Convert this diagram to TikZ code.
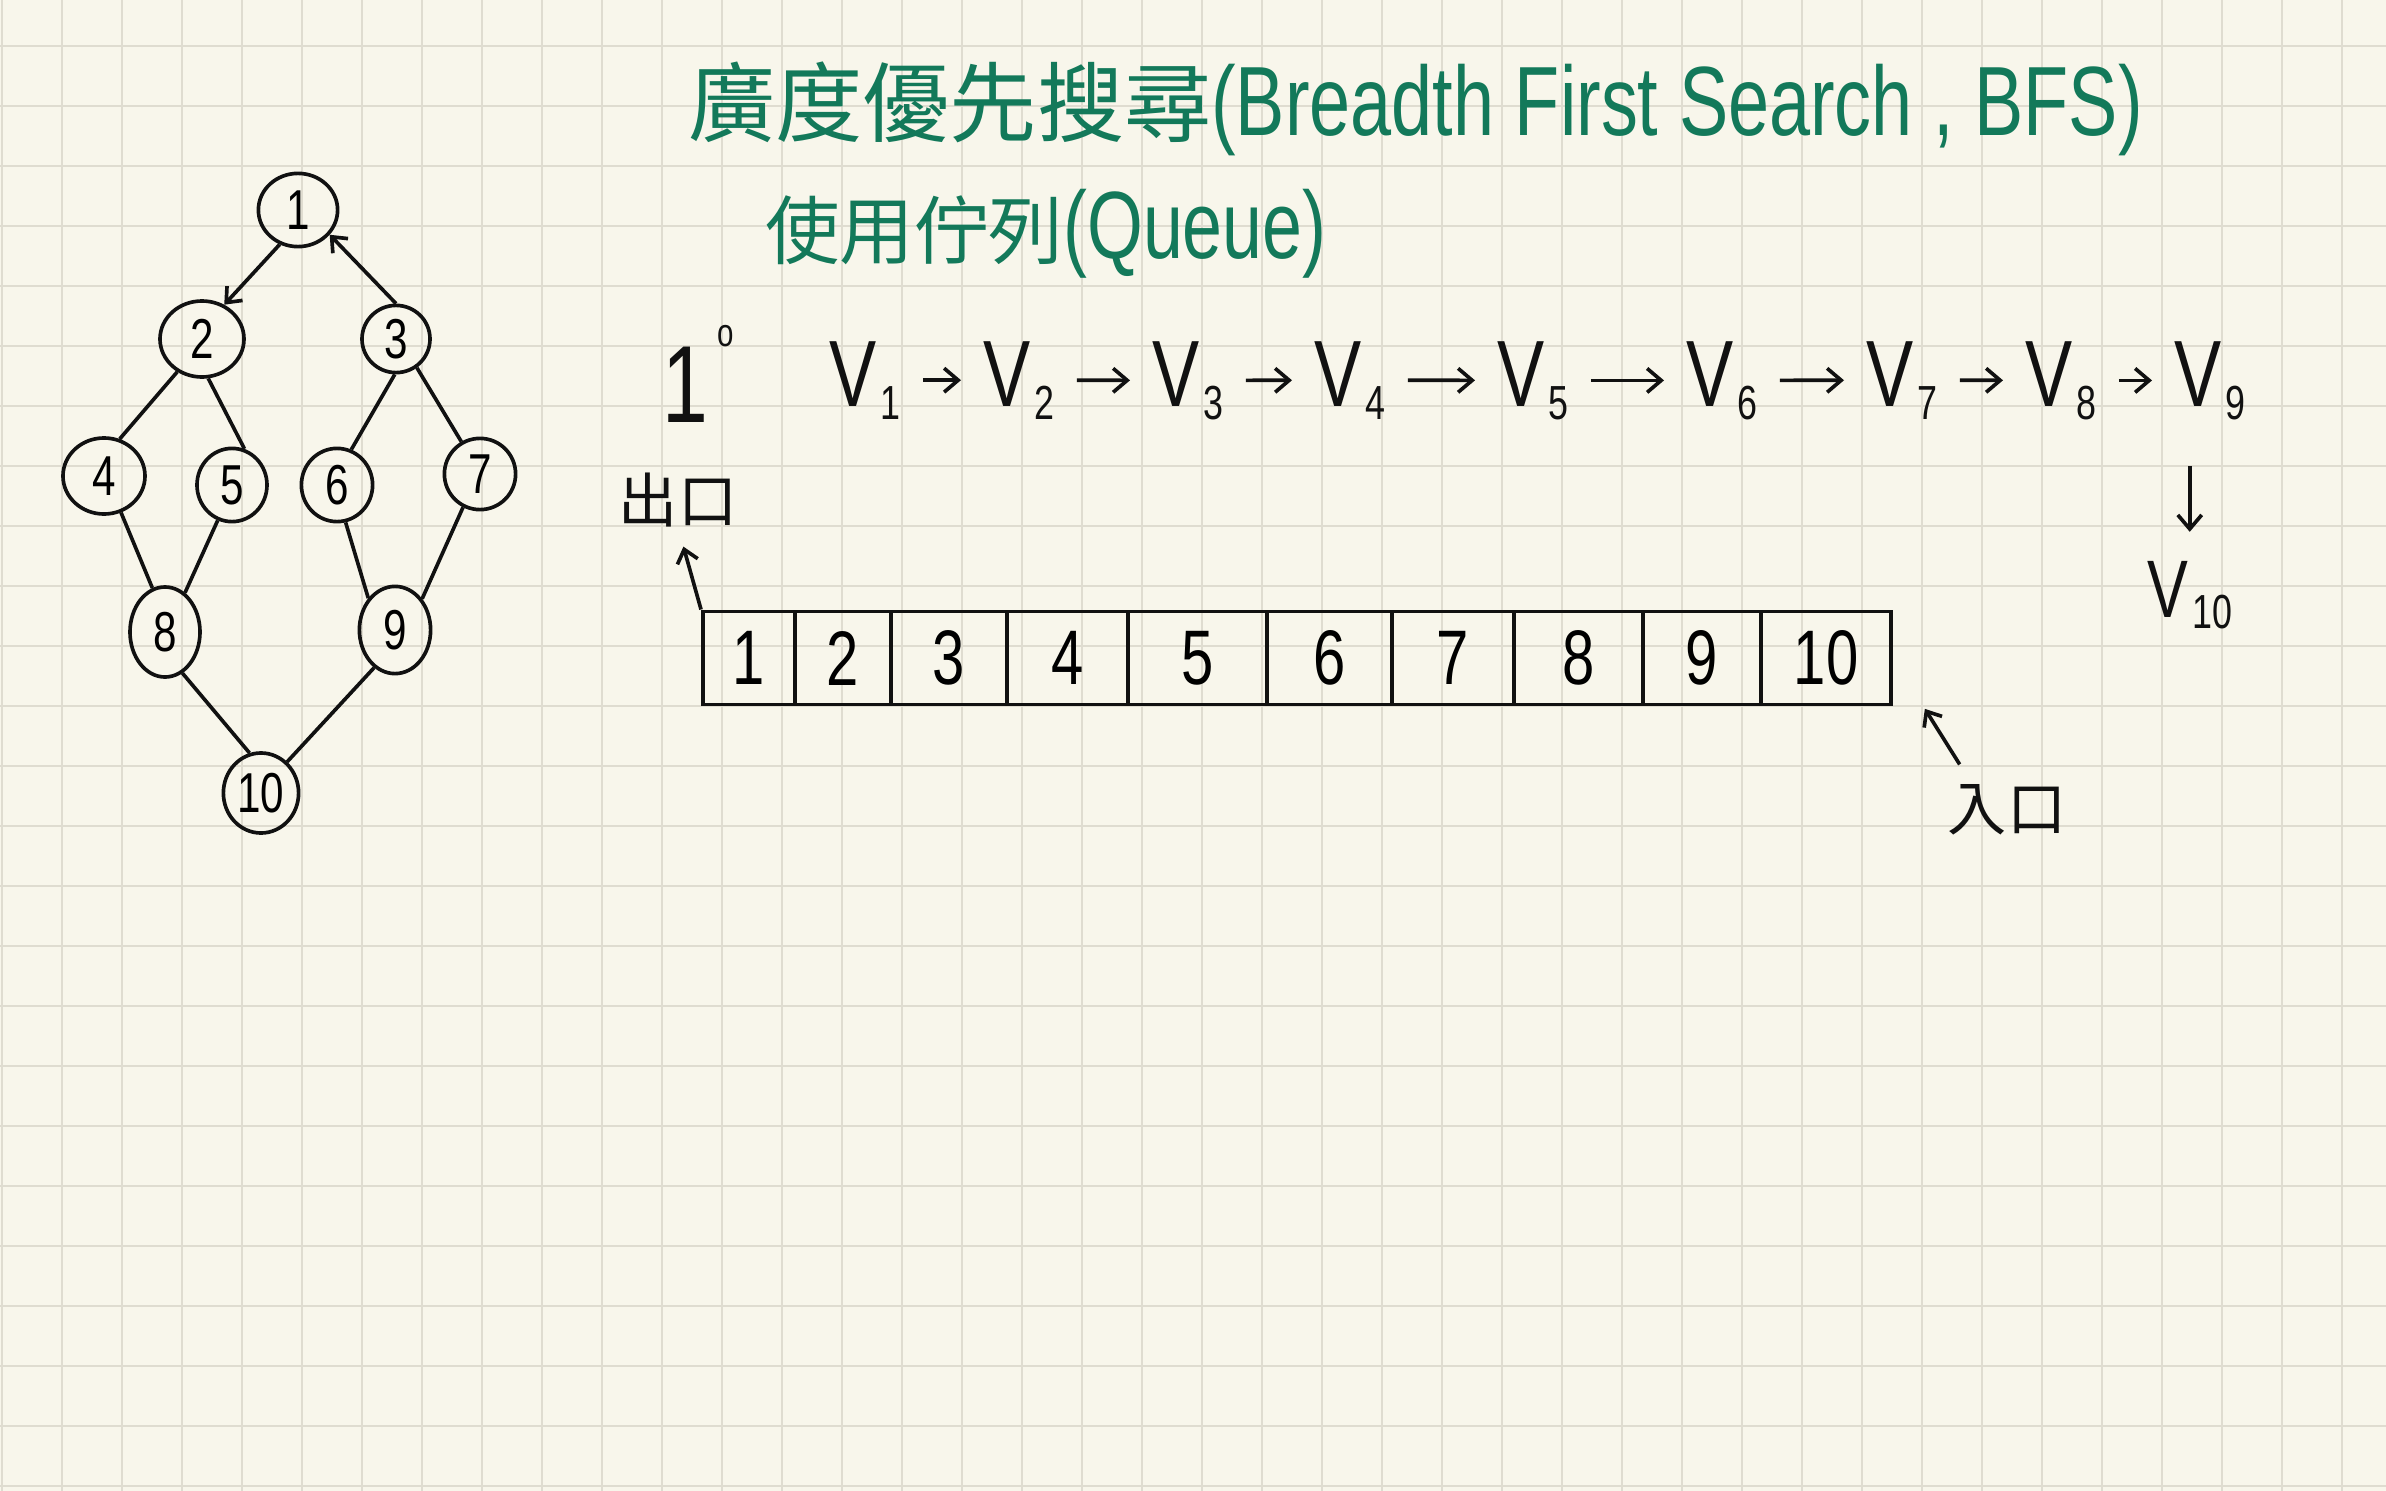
\documentclass[tikz,border=0pt]{standalone}
\usepackage{fontspec}
\setmainfont{Liberation Sans}[FakeStretch=0.75]
\newfontfamily\cjk{Noto Sans CJK TC}
\usetikzlibrary{arrows.meta}
\usetikzlibrary{shapes.geometric}
\usetikzlibrary{positioning}
\definecolor{paper}{HTML}{F8F6EB}
\definecolor{gridline}{HTML}{DFDCD0}
\definecolor{pen-green}{HTML}{13795A}
\definecolor{pen-black}{HTML}{111111}

\newcommand{\vsub}[1]{V\kern3pt\raisebox{-0.14em}{\fontsize{34}{34}\selectfont #1}}

\begin{document}
\begin{tikzpicture}[x=0.025cm, y=-0.025cm,
    vtx/.style={ellipse, draw=pen-black, line width=2.6pt, inner sep=0pt, font=\fontsize{40}{40}\selectfont},
    edge/.style={draw=pen-black, line width=2.6pt},
    arr/.style={-{Straight Barb[length=9pt,width=15pt]}, draw=pen-black, line width=2.6pt},
    seq/.style={anchor=base west, inner sep=0pt, text=pen-black, font=\fontsize{67}{67}\selectfont},
    cell/.style={rectangle, draw=pen-black, line width=2.8pt, minimum height=2.325cm, inner sep=0pt, font=\fontsize{55}{55}\selectfont},
    cjklabel/.style={inner sep=0pt, text=pen-black, font=\cjk\fontsize{42}{42}\selectfont}]

    % Paper
    \fill[paper] (0,0) rectangle (2386,1491);
    \useasboundingbox (0,0) rectangle (2386,1491);
    \foreach \gx in {2,62,...,2342} {
        \draw[gridline, line width=1.2pt] (\gx,0) -- (\gx,1491);
    }
    \foreach \gy in {46,106,...,1486} {
        \draw[gridline, line width=1.2pt] (0,\gy) -- (2386,\gy);
    }

    % Title
    \node[anchor=base west, inner sep=0pt, text=pen-green] (title) at (688,136)
        {{\cjk\fontsize{62}{62}\selectfont 廣度優先搜尋}\fontsize{70}{70}\selectfont(Breadth First Search , BFS)};
    \node[anchor=base west, inner sep=0pt, text=pen-green] (subtitle) at (765,258)
        {{\cjk\fontsize{53}{53}\selectfont 使用佇列}\fontsize{68}{68}\selectfont(Queue)};

    % Graph
    \foreach \n/\x/\y/\w/\h in {1/298/210/1.98/1.83, 2/202/339/2.1/1.9, 3/396/339/1.7/1.68,
        4/104/476/2.05/1.9, 5/232/485/1.75/1.83, 6/337/485/1.78/1.83, 7/480/474/1.78/1.78,
        8/165/632/1.75/2.25, 9/395/630/1.78/2.18, 10/261/793/1.88/2.0} {
        \node[vtx, minimum width=\w cm, minimum height=\h cm] (n\n) at (\x,\y) {\n};
    }
    \foreach \a/\p/\b/\q in {2/233/4/67, 2/279/5/71, 3/268/6/68, 3/306/7/120,
        4/295/8/106, 5/248/8/63, 6/283/9/130, 7/243/9/49, 8/293/10/106, 9/241/10/50} {
        \draw[edge] (n\a.\p) -- (n\b.\q);
    }
    \draw[arr] (n1.242) -- (n2.57);
    \draw[arr] (n3.90) -- (n1.322);

    % Visit order
    \node[seq] (step) at (662,422)
        {{\fontsize{78}{78}\selectfont 1}\hspace{7pt}\raisebox{54pt}{\fontsize{28}{28}\selectfont o}};
    \foreach \i/\x in {1/829, 2/983, 3/1152, 4/1314, 5/1497, 6/1686, 7/1866, 8/2025, 9/2174} {
        \node[seq] (v\i) at (\x,406) {\vsub{\i}};
    }
    \foreach \i [evaluate=\i as \j using int(\i+1)] in {1,...,8} {
        \draw[arr, -{Straight Barb[length=10pt,width=17pt]}, shorten <=0.55cm, shorten >=0.55cm] (v\i) -- (v\j);
    }
    \node[seq, font=\fontsize{58}{58}\selectfont] (v10) at (2147,617) {\vsub{10}};
    \draw[arr, -{Straight Barb[length=10pt,width=17pt]}, shorten <=1.15cm, shorten >=0.72cm] (v9.south -| v10.north) -- (v10.north);

    % Queue
    \foreach \l/\r [count=\i] in {703/795, 795/891, 891/1007, 1007/1128, 1128/1267,
        1267/1392, 1392/1514, 1514/1643, 1643/1761, 1761/1891} {
        \node[cell, minimum width={(\r-\l)*0.025cm}] (q\i) at ({(\l+\r)/2},658) {\i};
    }
    \node[cjklabel] (exit) at (678,500) {出口};
    \node[cjklabel] (entry) at (2007,810) {入口};
    \draw[arr, shorten >=0.5cm] (q1.north west) -- (exit.south);
    \draw[arr, shorten >=1.5cm] ([shift={(0.3cm,0.5cm)}]entry.north west) -- (q10.east);
\end{tikzpicture}
\end{document}
